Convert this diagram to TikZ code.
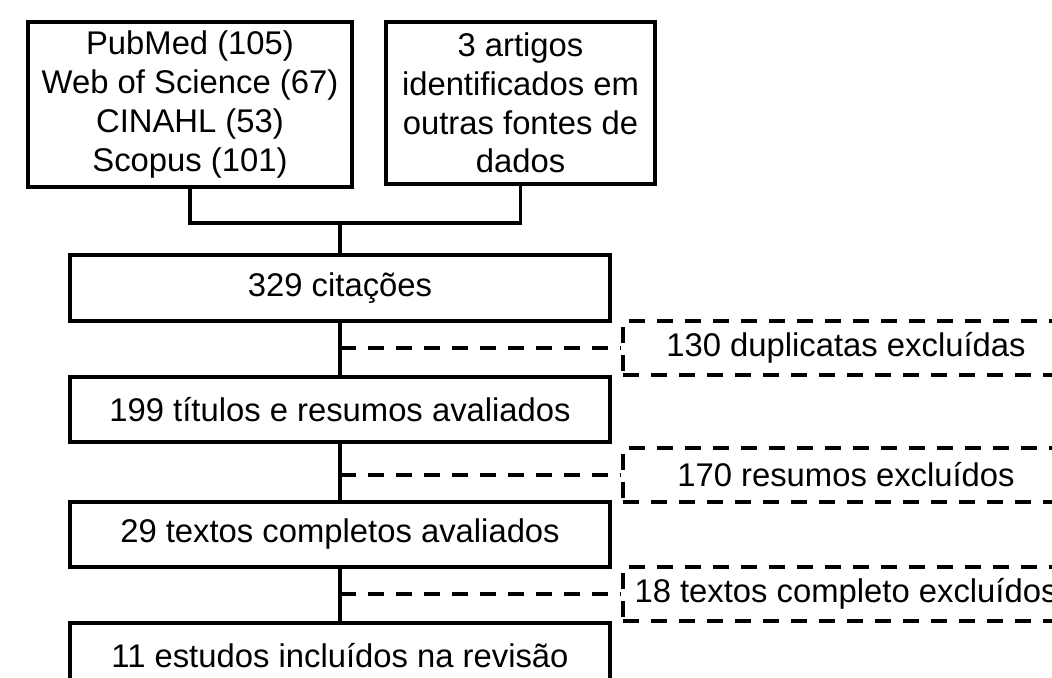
\documentclass[tikz,border=0pt]{standalone}
\usepackage{fontspec}
\setmainfont{Liberation Sans}
\begin{document}
\begin{tikzpicture}[x=0.5pt,y=-0.5pt,
  every node/.style={font=\fontsize{16.4pt}{19.4pt}\selectfont, inner sep=0pt, align=center},
  solidbox/.style={draw, line width=1.6pt, minimum width=#1, minimum height=32.5pt},
  dashbox/.style={draw, line width=2pt, dash pattern=on 8pt off 6pt, minimum width=223pt, minimum height=27pt},
  conn/.style={line width=1.6pt},
  dconn/.style={line width=2pt, dash pattern=on 8pt off 6pt}]
\clip (0,0) rectangle (1052,678);
\fill[white] (0,0) rectangle (1052,678);
\node[draw, line width=1.6pt, minimum width=162pt, minimum height=82.5pt] (A) at (190,104.5)
  {PubMed (105)\\Web of Science (67)\\CINAHL (53)\\Scopus (101)};
\node[draw, line width=1.6pt, minimum width=134.5pt, minimum height=81pt] (B) at (520.5,103)
  {3 artigos\\identificados em\\outras fontes de\\dados};
\node[solidbox=270pt, minimum height=33pt] (C) at (340,288) {329 citações};
\node[solidbox=270pt] (D) at (340,409.5) {199 títulos e resumos avaliados};
\node[solidbox=270pt] (E) at (340,534.5) {29 textos completos avaliados};
\node[solidbox=270pt] (F) at (340,655.5) {11 estudos incluídos na revisão};
\node[dashbox] (X1) at (846,348) {130 duplicatas excluídas};
\node[dashbox] (X2) at (846,474.5) {170 resumos excluídos};
\node[dashbox] (X3) at (846,593.5) {18 textos completo excluídos};
\coordinate (J) at (340,223);
\draw[conn] (A.south) |- (B.south |- J) -- (B.south);
\draw[conn] (J) -- (C.north);
\draw[conn] (C.south) -- (D.north);
\draw[conn] (D.south) -- (E.north);
\draw[conn] (E.south) -- (F.north);
\draw[dconn] (C.south |- X1.west) -- (X1.west);
\draw[dconn] (D.south |- X2.west) -- (X2.west);
\draw[dconn] (E.south |- X3.west) -- (X3.west);
\end{tikzpicture}
\end{document}
